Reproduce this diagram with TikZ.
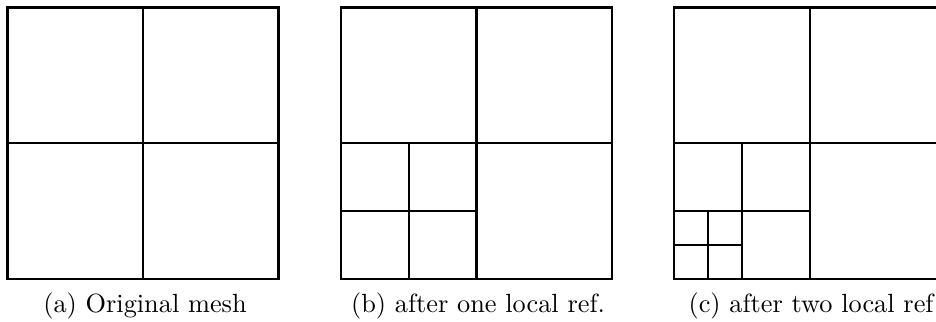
\documentclass[tikz,border=0pt]{standalone}
\begin{document}
\begin{tikzpicture}[x=0.38pt,y=-0.38pt,
  mesh/.style={line width=0.8pt,line cap=rect},
  captext/.style={anchor=base,inner sep=0pt}]
\useasboundingbox (0,0) rectangle (936,322);
\clip (0,0) rectangle (936,322);
% (a)
\draw[mesh] (7.5,7.5) rectangle (278.5,279);
\draw[mesh] (143,7.5) -- (143,279);
\draw[mesh] (7.5,143) -- (278.5,143);
% (b)
\draw[mesh] (341,7.5) rectangle (612,279);
\draw[mesh] (476.5,7.5) -- (476.5,279);
\draw[mesh] (341,143) -- (612,143);
\draw[mesh] (408.75,143) -- (408.75,279);
\draw[mesh] (341,211) -- (476.5,211);
% (c)
\draw[mesh] (674,7.5) rectangle (945,279);
\draw[mesh] (810,7.5) -- (810,279);
\draw[mesh] (674,143) -- (945,143);
\draw[mesh] (742,143) -- (742,279);
\draw[mesh] (674,211) -- (810,211);
\draw[mesh] (708,211) -- (708,279);
\draw[mesh] (674,245) -- (742,245);
% captions
\node[captext] (ca) at (145,313) {(a) Original mesh};
\node[captext] (cb) at (478,313) {(b) after one local ref.};
\node[captext,anchor=base west] (cc) at (688,313) {(c) after two local ref};
\end{tikzpicture}
\end{document}
